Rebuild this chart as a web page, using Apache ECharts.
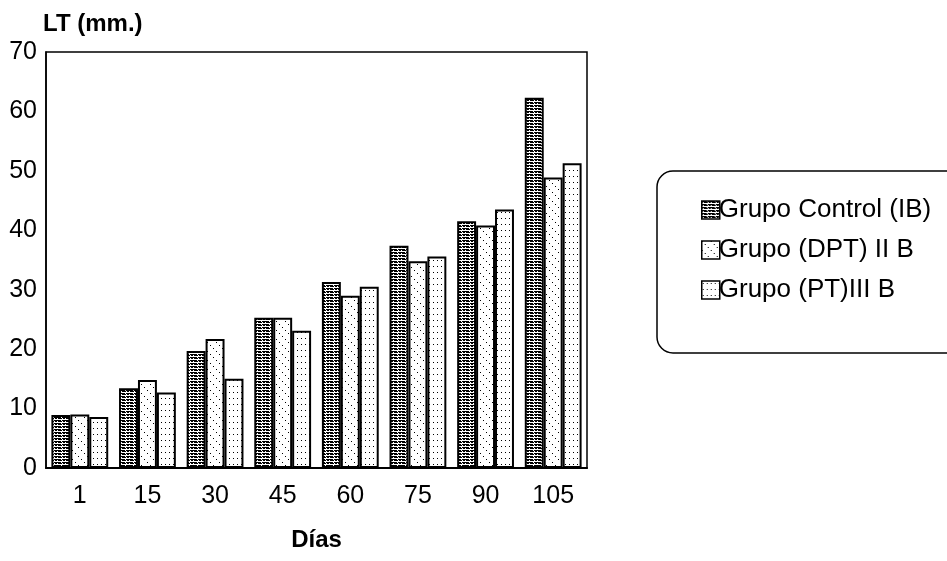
<!DOCTYPE html>
<html>
<head>
<meta charset="utf-8">
<script src="https://cdn.jsdelivr.net/npm/echarts@6/dist/echarts.min.js"></script>
<style>
  html, body { margin: 0; padding: 0; background: #fff; }
  #chart { width: 947px; height: 561px; }
</style>
</head>
<body>
<div id="chart"></div>
<script>
// Días de medición
const dias = ['1', '15', '30', '45', '60', '75', '90', '105'];
// Longitud total (mm) por grupo
const grupoControl = [8.9, 13.4, 19.7, 25.3, 31.3, 37.4, 41.5, 62.3];
const grupoDPT = [9.0, 14.8, 21.7, 25.3, 29.0, 34.8, 40.8, 48.9];
const grupoPT = [8.6, 12.7, 15.0, 23.1, 30.5, 35.6, 43.5, 51.3];
const nombres = ['Grupo Control (IB)', 'Grupo (DPT) II B', 'Grupo (PT)III B'];
const yTicks = [0, 10, 20, 30, 40, 50, 60, 70];

// Tramas de relleno en blanco y negro
function tile(w, h, draw) {
  const c = document.createElement('canvas');
  c.width = w; c.height = h;
  const ctx = c.getContext('2d');
  ctx.fillStyle = '#fff';
  ctx.fillRect(0, 0, w, h);
  ctx.fillStyle = '#000';
  draw(ctx);
  return { image: c, repeat: 'repeat' };
}
// líneas horizontales densas
const tramaRayas = tile(8, 3, ctx => {
  ctx.fillRect(0, 0, 8, 2);
  ctx.fillStyle = '#fff';
  ctx.fillRect(5, 0, 1, 1);
  ctx.fillRect(1, 1, 1, 1);
  ctx.fillRect(6, 1, 1, 1);
});
// puntos dispersos en diagonal
const tramaDiagonal = tile(9, 9, ctx => {
  ctx.fillRect(0, 0, 1, 1);
  ctx.fillRect(3, 3, 1, 1);
  ctx.fillRect(6, 6, 1, 1);
});
// retícula de puntos
const tramaPuntos = tile(4, 6, ctx => {
  ctx.fillRect(1, 2, 1, 1);
});

const textFont = "'Liberation Sans', Arial, sans-serif";

function serie(nombre, datos, trama) {
  return {
    name: nombre,
    type: 'bar',
    data: datos,
    barGap: '0%',
    barCategoryGap: '16%',
    itemStyle: { color: trama, borderColor: '#000', borderWidth: 2 },
    emphasis: { disabled: true }
  };
}

const chart = echarts.init(document.getElementById('chart'), null, { renderer: 'canvas' });
chart.setOption({
  animation: false,
  backgroundColor: '#fff',
  grid: {
    left: 46, right: 360, top: 52, bottom: 93,
    show: true, borderColor: '#000', borderWidth: 1.5, backgroundColor: 'transparent'
  },
  xAxis: {
    type: 'category',
    data: dias,
    name: 'Días',
    nameLocation: 'middle',
    nameGap: 60,
    nameTextStyle: { fontFamily: textFont, fontWeight: 'bold', fontSize: 24, color: '#000' },
    axisLine: { lineStyle: { color: '#000', width: 2 } },
    axisTick: { show: false },
    axisLabel: { fontFamily: textFont, fontSize: 25, color: '#000', margin: 16 }
  },
  yAxis: {
    type: 'value',
    min: yTicks[0],
    max: yTicks[yTicks.length - 1],
    interval: 10,
    name: 'LT (mm.)',
    nameLocation: 'end',
    nameGap: 28,
    nameTextStyle: { fontFamily: textFont, fontWeight: 'bold', fontSize: 24, color: '#000', align: 'left', verticalAlign: 'middle', padding: [0, 0, 0, -3] },
    splitLine: { show: false },
    axisLine: { show: true, lineStyle: { color: '#000', width: 1.5 } },
    axisTick: { show: false },
    axisLabel: { fontFamily: textFont, fontSize: 25, color: '#000', margin: 9 }
  },
  legend: {
    orient: 'vertical',
    left: 696,
    top: 192,
    itemWidth: 18,
    itemHeight: 18,
    itemGap: 14,
    selectedMode: false,
    icon: 'rect',
    data: nombres,
    textStyle: { fontFamily: textFont, fontSize: 26, color: '#000', padding: [0, 0, 0, -6] },
    itemStyle: { borderColor: '#000', borderWidth: 1.5 }
  },
  graphic: [{
    type: 'rect',
    shape: { x: 657, y: 171, width: 320, height: 182, r: 16 },
    style: { fill: 'none', stroke: '#000', lineWidth: 1.5 },
    z: 0
  }],
  series: [
    serie(nombres[0], grupoControl, tramaRayas),
    serie(nombres[1], grupoDPT, tramaDiagonal),
    serie(nombres[2], grupoPT, tramaPuntos)
  ]
});
</script>
</body>
</html>
